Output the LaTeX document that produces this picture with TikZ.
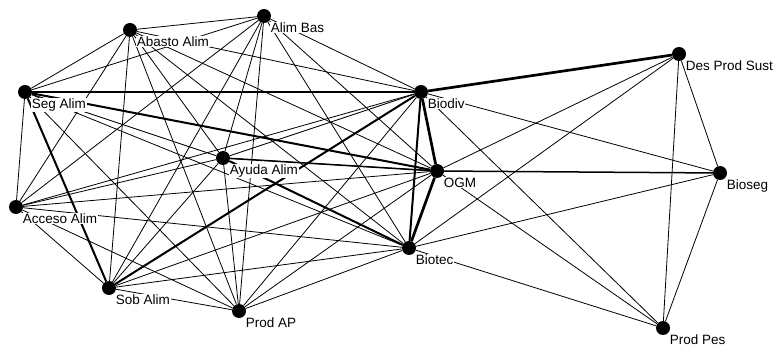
\documentclass[tikz,border=0pt]{standalone}
\usepackage{fontspec}
\setmainfont{Liberation Sans}
\usetikzlibrary{backgrounds}
\tikzset{dot/.style={circle, fill=black, inner sep=0pt, minimum size=14pt},
  lbl/.style={fill=white, inner sep=0.6pt, font=\fontsize{13.5}{15}\selectfont},
  link/.style={line width=0.8pt},
  mid/.style={line width=1.5pt},
  heavy/.style={line width=2pt},
  heavier/.style={line width=2.7pt}}

\begin{document}
\begin{tikzpicture}[x=1pt, y=-1pt, every label/.style=lbl, label distance=1.5pt]
\useasboundingbox (0,0) rectangle (782,347);
% food security cluster
\node[dot, label=south east:Abasto Alim] (aa) at (130,30) {};
\node[dot, label=south east:Alim Bas] (ab) at (264,16) {};
\node[dot, label=south east:Seg Alim] (sa) at (25,92) {};
\node[dot, label=south east:Ayuda Alim] (ay) at (223,158) {};
\node[dot, label=south east:Acceso Alim] (ac) at (16,207) {};
\node[dot, label=south east:Sob Alim] (so) at (109,288) {};
\node[dot, label=south east:Prod AP] (pa) at (239,311) {};
% biotech hub
\node[dot, label=south east:Biodiv] (bd) at (421,92) {};
\node[dot, label=south east:OGM] (ogm) at (437,171) {};
\node[dot, label=south east:Biotec] (bt) at (409,248) {};
% outer nodes
\node[dot, label=south east:Des Prod Sust] (dps) at (679,54) {};
\node[dot, label=south east:Bioseg] (bs) at (720,173) {};
\node[dot, label=south east:Prod Pes] (pp) at (663,328) {};

\begin{scope}[on background layer]
% every pair inside the cluster is linked
\foreach \a [count=\i] in {aa,ab,sa,ay,ac,so,pa,bd,ogm,bt}
  \foreach \b [count=\j] in {aa,ab,sa,ay,ac,so,pa,bd,ogm,bt}
    {\ifnum\j>\i \draw[link] (\a) -- (\b); \fi}
\foreach \a/\b in {dps/ogm, dps/bt, dps/pp, dps/bs, bd/bs, bd/pp,
  ogm/pp, bt/bs, bt/pp, bs/pp}
  \draw[link] (\a) -- (\b);
% stronger ties
\draw[mid] (ay) -- (ogm);
\draw[mid] (ogm) -- (bs);
\foreach \a/\b in {sa/bd, sa/ogm, sa/so, so/bd, ay/bt, bd/bt}
  \draw[heavy] (\a) -- (\b);
\draw[heavier] (bd) -- (dps);
\draw[heavier] (bd) -- (ogm) -- (bt);
\end{scope}
\end{tikzpicture}
\end{document}
